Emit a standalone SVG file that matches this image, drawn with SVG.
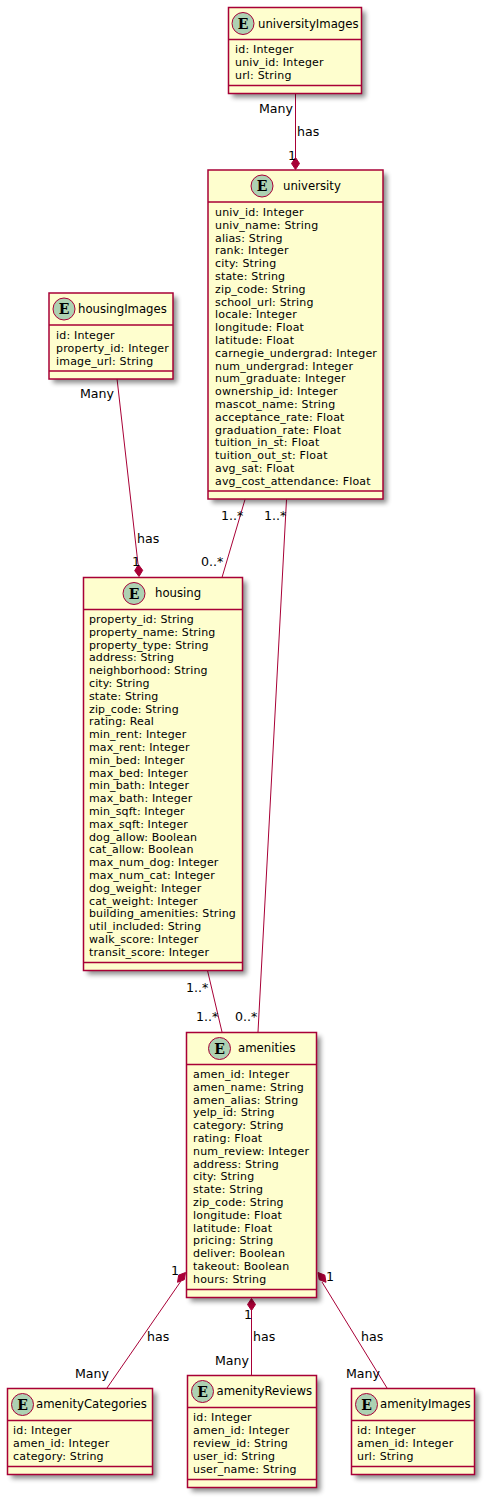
<svg xmlns="http://www.w3.org/2000/svg" width="487" height="1500" viewBox="0 0 487 1500">
<style>
.box{fill:#FEFECE;stroke:#A80036;stroke-width:1.5}
.sep{stroke:#A80036;stroke-width:1.5}
.shd{fill:#000;opacity:.45}
.circ{fill:#ADD1B2;stroke:#A80036;stroke-width:1}
.E{font:bold 14px "DejaVu Serif","Liberation Serif",serif;fill:#000;text-anchor:middle}
.name{font:11.700px "DejaVu Sans",sans-serif;fill:#000}
.attr{font:11px "DejaVu Sans",sans-serif;letter-spacing:.18px;fill:#000}
#housing .attr{letter-spacing:.12px}
.lab{font:12.600px "DejaVu Sans",sans-serif;fill:#000}
.c{fill:none;stroke:#A80036;stroke-width:1}
.d{fill:#A80036;stroke:#A80036;stroke-width:1}
</style>
<defs>
<filter id="sh" x="-10%" y="-10%" width="125%" height="125%"><feGaussianBlur stdDeviation="2.500"/></filter>
</defs>
<g id="connectors">
<path class="c" d="M295.500 93.500V160"/><path class="d" d="M295.500 169.500l4-6-4-6-4 6z"/>
<path class="c" d="M117 378.500L138 564"/><path class="d" d="M139 576.500l3.700-6.200-4.300-5.800-3.700 6.200z"/>
<path class="c" d="M245 499.500L222 577.500"/>
<path class="c" d="M286.500 499.500L258 1032"/>
<path class="c" d="M207.500 970.500L222 1032"/>
<path class="d" d="M185.500 1272.500l-1.200 7.200-6.800 2.600 1.200-7.200z"/>
<path class="c" d="M181 1281L107 1388"/>
<path class="d" d="M251.500 1298.500l4 6-4 6-4-6z"/><path class="c" d="M251.500 1310V1375"/>
<path class="d" d="M318 1272.500l6.800 2.600 1.200 7.200-6.800-2.600z"/>
<path class="c" d="M322 1282L387 1388"/>
</g>
<g id="labels">
<text class="lab" x="259" y="113">Many</text><text class="lab" x="297" y="136">has</text><text class="lab" x="288" y="160">1</text>
<text class="lab" x="80" y="398">Many</text><text class="lab" x="137" y="543">has</text><text class="lab" x="132" y="566">1</text>
<text class="lab" x="221" y="520">1..*</text><text class="lab" x="264" y="520">1..*</text><text class="lab" x="201" y="566">0..*</text>
<text class="lab" x="186" y="992">1..*</text><text class="lab" x="196" y="1021">1..*</text><text class="lab" x="235" y="1021">0..*</text>
<text class="lab" x="171" y="1275">1</text><text class="lab" x="147" y="1341">has</text><text class="lab" x="75" y="1378">Many</text>
<text class="lab" x="244" y="1319">1</text><text class="lab" x="253" y="1341">has</text><text class="lab" x="215" y="1365">Many</text>
<text class="lab" x="326" y="1281">1</text><text class="lab" x="361" y="1341">has</text><text class="lab" x="346" y="1378">Many</text>
</g>
<g id="universityImages"><rect class="shd" x="232.500" y="11.500" width="133" height="86" filter="url(#sh)"/><rect class="box" x="228.500" y="7.500" width="133" height="86"/><path class="sep" d="M228.500 39.500h133M228.500 85.500h133"/><circle class="circ" cx="243" cy="23.500" r="11"/><text class="E" x="243" y="28.500">E</text><text class="name" x="258" y="27.500">universityImages</text><text class="attr"><tspan x="235" y="53">id: Integer</tspan><tspan x="235" y="66">univ_id: Integer</tspan><tspan x="235" y="79">url: String</tspan></text></g>
<g id="university"><rect class="shd" x="212" y="174" width="175" height="329" filter="url(#sh)"/><rect class="box" x="208" y="170" width="175" height="329"/><path class="sep" d="M208 202h175M208 491h175"/><circle class="circ" cx="262" cy="186" r="11"/><text class="E" x="262" y="191">E</text><text class="name" x="283" y="190">university</text><text class="attr"><tspan x="215" y="216">univ_id: Integer</tspan><tspan x="215" dy="12.800">univ_name: String</tspan><tspan x="215" dy="12.800">alias: String</tspan><tspan x="215" dy="12.800">rank: Integer</tspan><tspan x="215" dy="12.800">city: String</tspan><tspan x="215" dy="12.800">state: String</tspan><tspan x="215" dy="12.800">zip_code: String</tspan><tspan x="215" dy="12.800">school_url: String</tspan><tspan x="215" dy="12.800">locale: Integer</tspan><tspan x="215" dy="12.800">longitude: Float</tspan><tspan x="215" dy="12.800">latitude: Float</tspan><tspan x="215" dy="12.800">carnegie_undergrad: Integer</tspan><tspan x="215" dy="12.800">num_undergrad: Integer</tspan><tspan x="215" dy="12.800">num_graduate: Integer</tspan><tspan x="215" dy="12.800">ownership_id: Integer</tspan><tspan x="215" dy="12.800">mascot_name: String</tspan><tspan x="215" dy="12.800">acceptance_rate: Float</tspan><tspan x="215" dy="12.800">graduation_rate: Float</tspan><tspan x="215" dy="12.800">tuition_in_st: Float</tspan><tspan x="215" dy="12.800">tuition_out_st: Float</tspan><tspan x="215" dy="12.800">avg_sat: Float</tspan><tspan x="215" dy="12.800">avg_cost_attendance: Float</tspan></text></g>
<g id="housingImages"><rect class="shd" x="53" y="297" width="124" height="86" filter="url(#sh)"/><rect class="box" x="49" y="293" width="124" height="86"/><path class="sep" d="M49 325h124M49 371h124"/><circle class="circ" cx="64" cy="309" r="11"/><text class="E" x="64" y="314">E</text><text class="name" x="78" y="313">housingImages</text><text class="attr"><tspan x="56" y="339">id: Integer</tspan><tspan x="56" y="352">property_id: Integer</tspan><tspan x="56" y="365">image_url: String</tspan></text></g>
<g id="housing"><rect class="shd" x="87.500" y="581.500" width="159" height="393" filter="url(#sh)"/><rect class="box" x="83.500" y="577.500" width="159" height="393"/><path class="sep" d="M83.500 609.500h159M83.500 962.500h159"/><circle class="circ" cx="134" cy="593.500" r="11"/><text class="E" x="134" y="598.500">E</text><text class="name" x="155" y="597">housing</text><text class="attr"><tspan x="89" y="623">property_id: String</tspan><tspan x="89" dy="12.800">property_name: String</tspan><tspan x="89" dy="12.800">property_type: String</tspan><tspan x="89" dy="12.800">address: String</tspan><tspan x="89" dy="12.800">neighborhood: String</tspan><tspan x="89" dy="12.800">city: String</tspan><tspan x="89" dy="12.800">state: String</tspan><tspan x="89" dy="12.800">zip_code: String</tspan><tspan x="89" dy="12.800">rating: Real</tspan><tspan x="89" dy="12.800">min_rent: Integer</tspan><tspan x="89" dy="12.800">max_rent: Integer</tspan><tspan x="89" dy="12.800">min_bed: Integer</tspan><tspan x="89" dy="12.800">max_bed: Integer</tspan><tspan x="89" dy="12.800">min_bath: Integer</tspan><tspan x="89" dy="12.800">max_bath: Integer</tspan><tspan x="89" dy="12.800">min_sqft: Integer</tspan><tspan x="89" dy="12.800">max_sqft: Integer</tspan><tspan x="89" dy="12.800">dog_allow: Boolean</tspan><tspan x="89" dy="12.800">cat_allow: Boolean</tspan><tspan x="89" dy="12.800">max_num_dog: Integer</tspan><tspan x="89" dy="12.800">max_num_cat: Integer</tspan><tspan x="89" dy="12.800">dog_weight: Integer</tspan><tspan x="89" dy="12.800">cat_weight: Integer</tspan><tspan x="89" dy="12.800">building_amenities: String</tspan><tspan x="89" dy="12.800">util_included: String</tspan><tspan x="89" dy="12.800">walk_score: Integer</tspan><tspan x="89" dy="12.800">transit_score: Integer</tspan></text></g>
<g id="amenities"><rect class="shd" x="190.500" y="1036.500" width="130" height="265" filter="url(#sh)"/><rect class="box" x="186.500" y="1032.500" width="130" height="265"/><path class="sep" d="M186.500 1064.500h130M186.500 1289.500h130"/><circle class="circ" cx="219.500" cy="1048.500" r="11"/><text class="E" x="219.500" y="1053.500">E</text><text class="name" x="238" y="1052">amenities</text><text class="attr"><tspan x="193" y="1078">amen_id: Integer</tspan><tspan x="193" dy="12.800">amen_name: String</tspan><tspan x="193" dy="12.800">amen_alias: String</tspan><tspan x="193" dy="12.800">yelp_id: String</tspan><tspan x="193" dy="12.800">category: String</tspan><tspan x="193" dy="12.800">rating: Float</tspan><tspan x="193" dy="12.800">num_review: Integer</tspan><tspan x="193" dy="12.800">address: String</tspan><tspan x="193" dy="12.800">city: String</tspan><tspan x="193" dy="12.800">state: String</tspan><tspan x="193" dy="12.800">zip_code: String</tspan><tspan x="193" dy="12.800">longitude: Float</tspan><tspan x="193" dy="12.800">latitude: Float</tspan><tspan x="193" dy="12.800">pricing: String</tspan><tspan x="193" dy="12.800">deliver: Boolean</tspan><tspan x="193" dy="12.800">takeout: Boolean</tspan><tspan x="193" dy="12.800">hours: String</tspan></text></g>
<g id="amenityCategories"><rect class="shd" x="11.500" y="1392.500" width="145" height="86" filter="url(#sh)"/><rect class="box" x="7.500" y="1388.500" width="145" height="86"/><path class="sep" d="M7.500 1420.500h145M7.500 1466.500h145"/><circle class="circ" cx="22.500" cy="1404.500" r="11"/><text class="E" x="22.500" y="1409.500">E</text><text class="name" x="36" y="1408">amenityCategories</text><text class="attr"><tspan x="13" y="1434">id: Integer</tspan><tspan x="13" y="1447">amen_id: Integer</tspan><tspan x="13" y="1460">category: String</tspan></text></g>
<g id="amenityReviews"><rect class="shd" x="191.500" y="1379.500" width="129" height="112" filter="url(#sh)"/><rect class="box" x="187.500" y="1375.500" width="129" height="112"/><path class="sep" d="M187.500 1407.500h129M187.500 1479.500h129"/><circle class="circ" cx="202.500" cy="1391.500" r="11"/><text class="E" x="202.500" y="1396.500">E</text><text class="name" x="216.500" y="1395">amenityReviews</text><text class="attr"><tspan x="193" y="1421">id: Integer</tspan><tspan x="193" y="1434">amen_id: Integer</tspan><tspan x="193" y="1447">review_id: String</tspan><tspan x="193" y="1460">user_id: String</tspan><tspan x="193" y="1472.500">user_name: String</tspan></text></g>
<g id="amenityImages"><rect class="shd" x="355.500" y="1392.500" width="123" height="86" filter="url(#sh)"/><rect class="box" x="351.500" y="1388.500" width="123" height="86"/><path class="sep" d="M351.500 1420.500h123M351.500 1466.500h123"/><circle class="circ" cx="366.500" cy="1404.500" r="11"/><text class="E" x="366.500" y="1409.500">E</text><text class="name" x="380" y="1408">amenityImages</text><text class="attr"><tspan x="357" y="1434">id: Integer</tspan><tspan x="357" y="1447">amen_id: Integer</tspan><tspan x="357" y="1460">url: String</tspan></text></g>
</svg>
